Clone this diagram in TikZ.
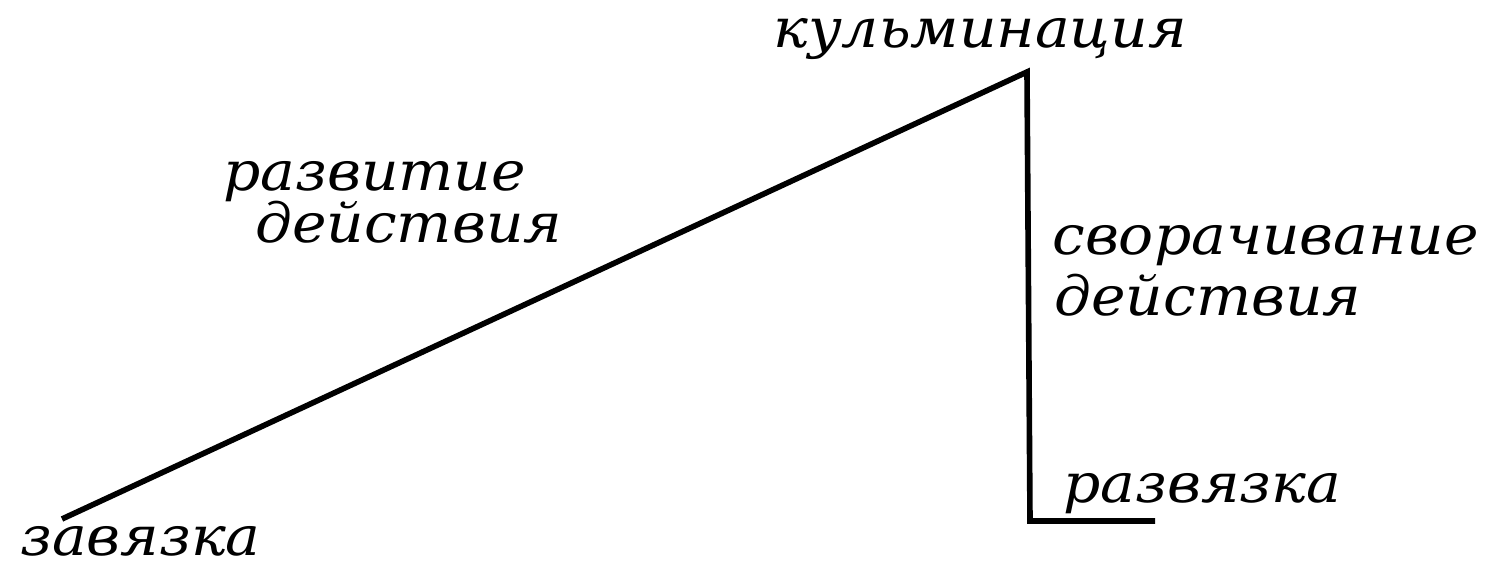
\documentclass[tikz,border=0pt]{standalone}
\usepackage{fontspec}
\setmainfont{DejaVu Serif}[FakeStretch=1.07]
\usetikzlibrary{positioning}

\begin{document}
\begin{tikzpicture}[
  x=1cm, y=1cm,
  stage/.style={font=\fontsize{31}{36}\selectfont\itshape, inner sep=0pt, anchor=base west},
  plot/.style={line width=3.2pt, line join=miter},
]
\useasboundingbox (0,0) rectangle (29.98,11.3);

% points of the plot line
\coordinate (start) at (1.24,0.92);
\coordinate (peak) at (20.54,9.86);
\coordinate (drop) at (20.6,0.88);
\coordinate (finish) at (23.1,0.88);

\draw[plot] (start) -- (peak) -- (drop) -- (finish);

\node[stage] (zav) at (0.4,0.18) {завязка};
\node[stage] (razv1) at (4.46,7.48) {развитие};
\node[stage] (razv2) at (5.1,6.44) {действия};
\node[stage] (kulm) at (15.46,10.34) {кульминация};
\node[stage] (svor1) at (21.04,6.2) {сворачивание};
\node[stage] (svor2) at (21.08,4.98) {действия};
\node[stage] (razvyaz) at (21.26,1.24) {развязка};
\end{tikzpicture}
\end{document}
